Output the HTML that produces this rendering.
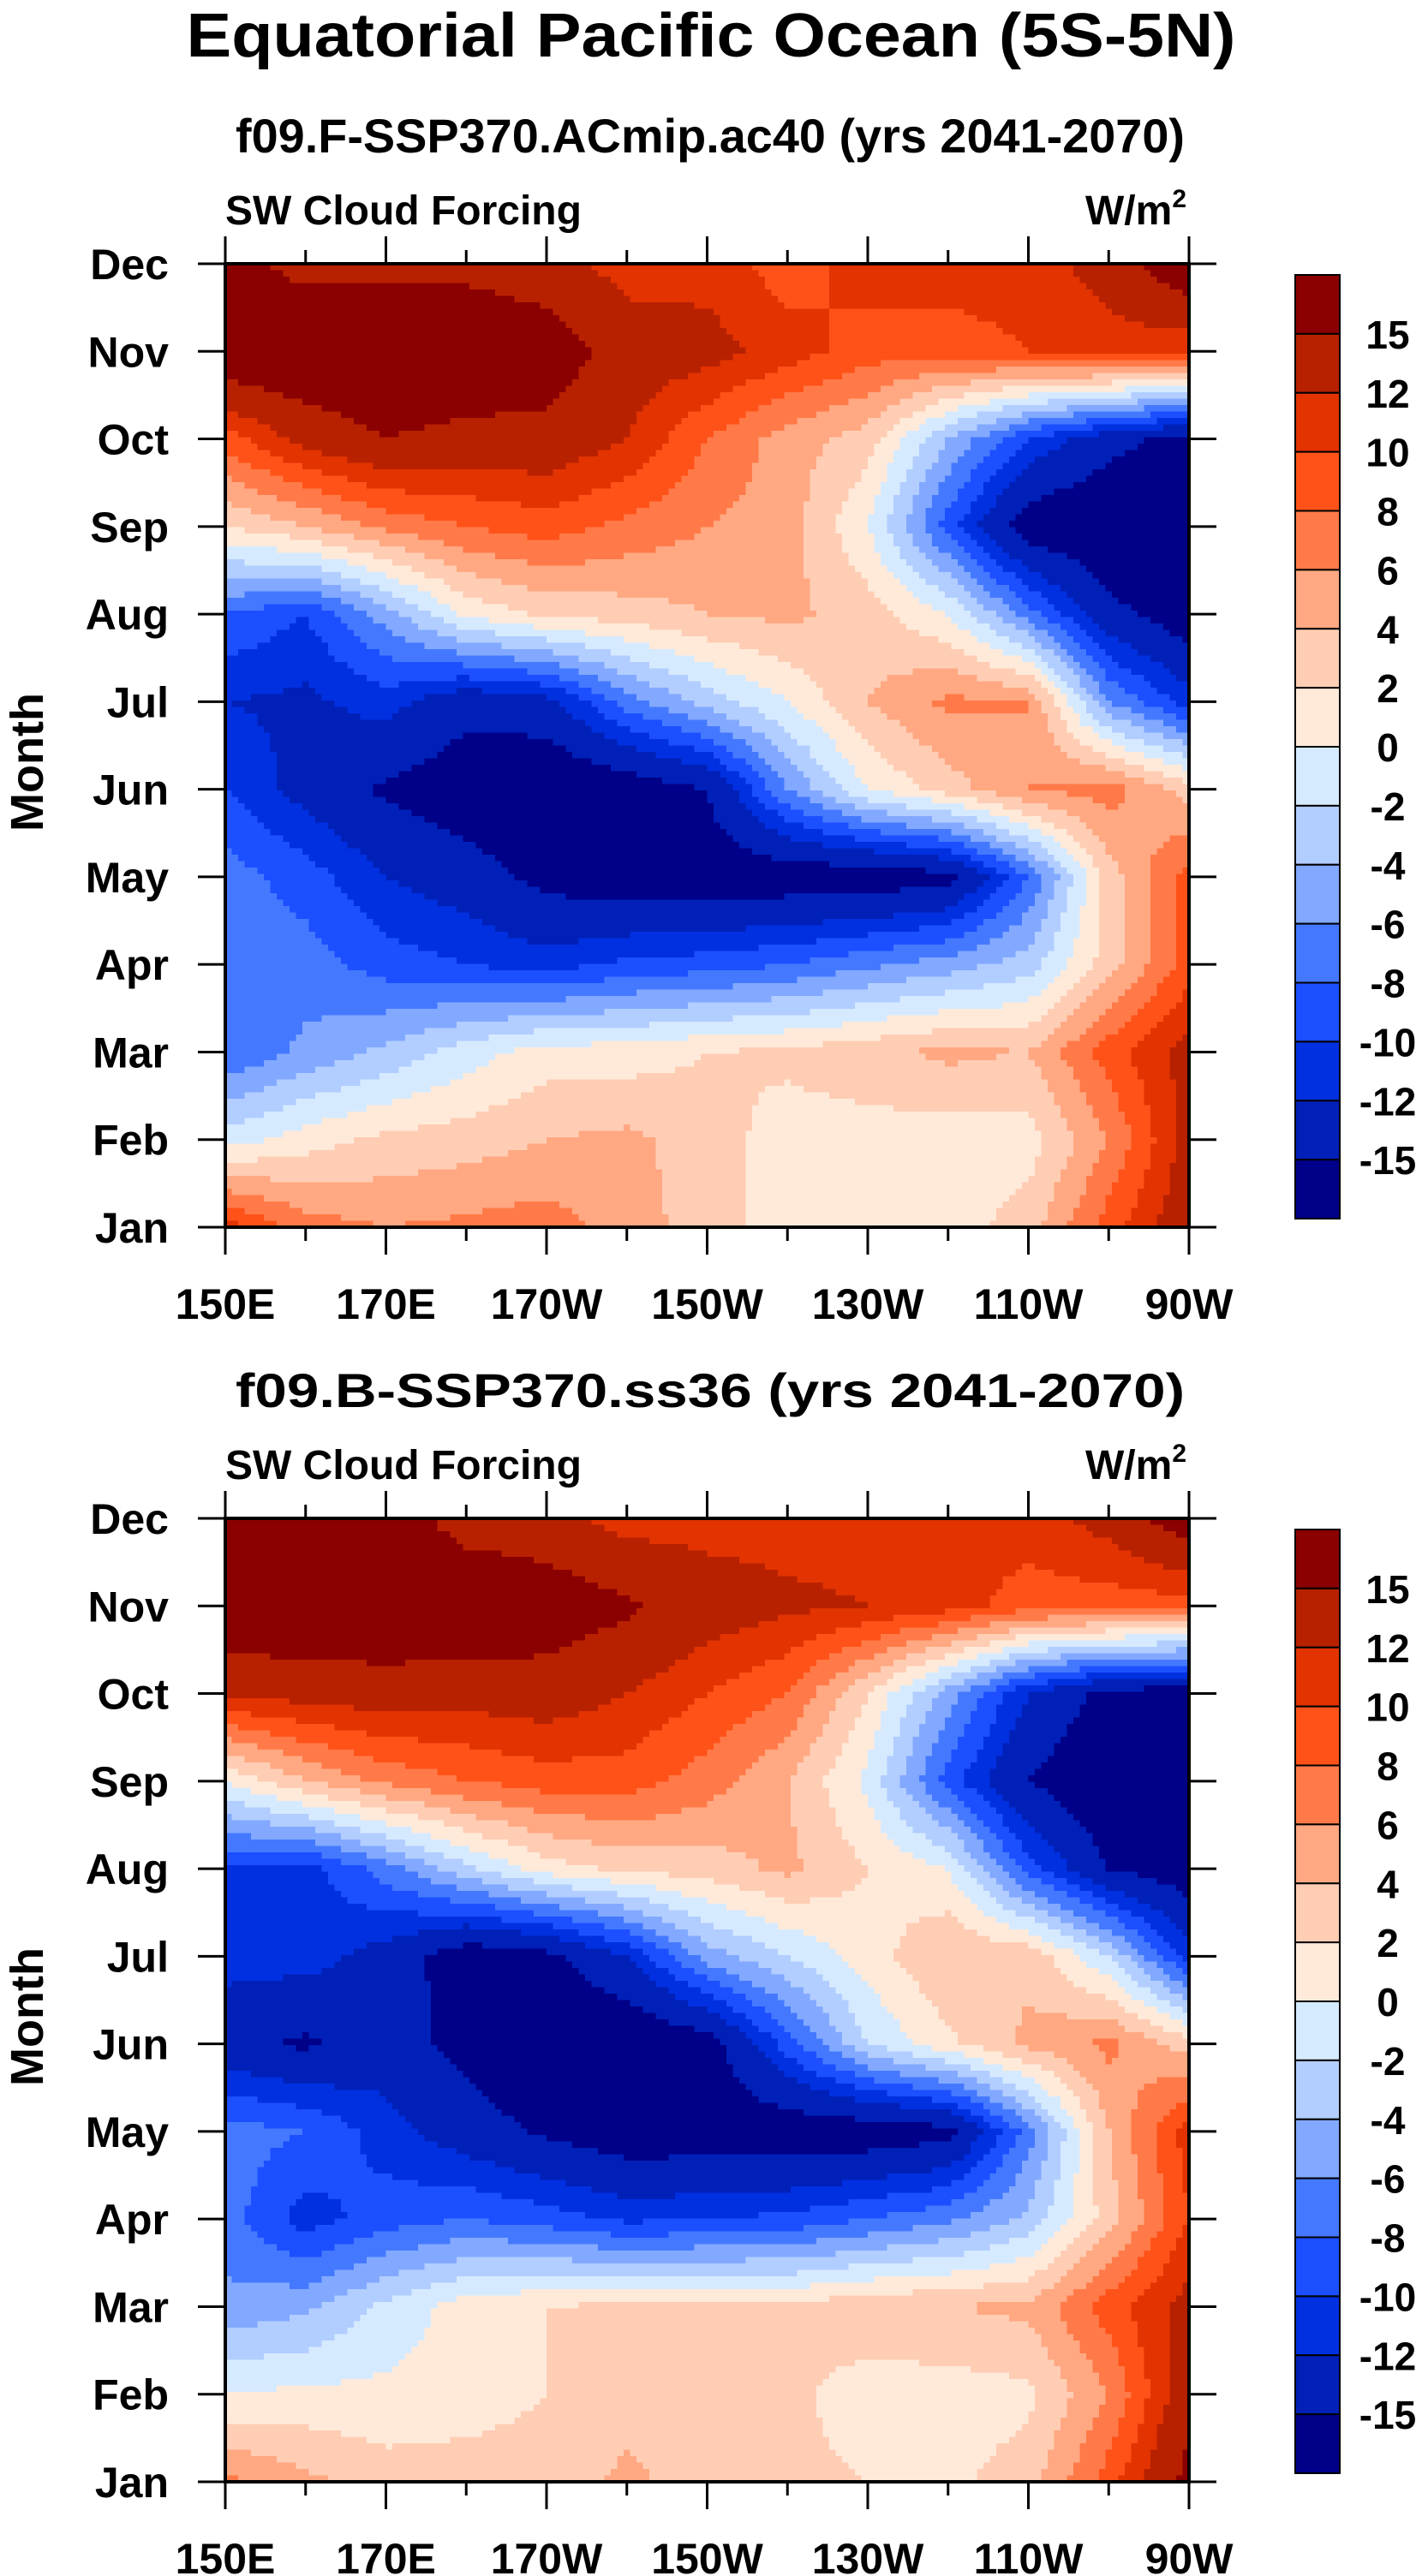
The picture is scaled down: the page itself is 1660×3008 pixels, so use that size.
<!DOCTYPE html>
<html><head><meta charset="utf-8"><style>
html,body{margin:0;padding:0;background:#fff;}
svg{display:block;font-family:"Liberation Sans",Arial,sans-serif;font-weight:bold;}
</style></head><body>
<svg id="fig" width="1660" height="3008" viewBox="0 0 1660 3008" xmlns="http://www.w3.org/2000/svg">
<rect width="1660" height="3008" fill="#fff"/>
<text x="830" y="66" font-size="72" text-anchor="middle" textLength="1225" lengthAdjust="spacingAndGlyphs">Equatorial Pacific Ocean (5S-5N)</text>
</svg>
<script>
// ---- data ----
const months = ["Jan","Feb","Mar","Apr","May","Jun","Jul","Aug","Sep","Oct","Nov","Dec"];
const lonLabels = ["150E","170E","170W","150W","130W","110W","90W"];
const lonTicks = [150,170,190,210,230,250,270];
const lonGrid = [150,160,170,180,190,200,210,220,230,240,250,260,270];
const levels = [-15,-12,-10,-8,-6,-4,-2,0,2,4,6,8,10,12,15];
const levelLabels = ["15","12","10","8","6","4","2","0","-2","-4","-6","-8","-10","-12","-15"];
const colors = ["#000088","#0020B8","#0030E0","#1C4FFF","#4479FF","#82A9FF","#B2CDFF","#D6EAFF","#FFEADA","#FFCDB4","#FFA882","#FF7A48","#FF5218","#E23300","#B82100","#8B0000"];
const fieldTop = [
[11,7,6,6.5,7,5,3,1,1,1,3,9,14],
[-1,1,2.5,3,4,4.5,3,1,1,1,1,6,13],
[-8,-5.5,-3.5,-1,1,1,2,2.5,3.5,4.5,4,9,13],
[-7,-7,-9,-10,-11,-9.5,-9,-8,-6.5,-5,-3,3,9],
[-7,-9,-12,-13.5,-16,-17,-17,-17,-17,-16,-8,3,9],
[-10,-13,-15.5,-17,-18,-17,-15,-6,0,3,6,7,3],
[-12,-12.5,-11,-14,-13,-7,-3,0,4,6.5,6,-6,-11],
[-8,-10,-5,0.5,2.5,3,4,4.5,3,0,-7,-14,-17],
[2,4,6.5,8,9,7.5,6,5,0,-9,-17,-18,-18],
[9,13,15,14,14,12,8,5,3,-4,-10,-14,-16],
[18,18,18,18,17,13.5,13,11,9,9,10,11,10],
[16,14,14,14,13,11,11,9,11,11,11,13,18]];
const fieldBottom = [
[6.5,4.5,3,3,3,4.5,3,2.5,2,1.5,3,9,16],
[0,0.5,0.5,1,2,3,3,2.5,1,1,1.5,6,14],
[-5.5,-4.5,-1.5,1,2,2.5,2.5,2.5,3.5,4,4.5,9,13],
[-7,-11,-9,-8,-9,-10.5,-10,-9.5,-8,-6.5,-3.5,3,10],
[-7,-8,-11,-13.5,-15.5,-17,-17,-17,-17,-16,-7,4,11],
[-14,-15.5,-13.5,-16,-18,-18,-16.5,-9,-2,1.5,4.5,6.5,3],
[-11,-11,-13,-17,-16,-12,-5,-2,1,4,3.5,-2,-11],
[-10,-11,-7,-2.5,1,2.5,3,4.5,2,0,-9,-15,-17],
[0,4,6.5,8,9,9,7,4,-0.5,-9,-15,-18,-18],
[12.5,13,13.5,13,13.5,12,10,8,2,-5,-12,-16,-17],
[18,18,18,18,17,15.5,13.5,12.5,12,11,9,9,9],
[18,18,17,13.5,13,11,11,11,11,11,11,13,17]];
const subtitles = ["f09.F-SSP370.ACmip.ac40 (yrs 2041-2070)","f09.B-SSP370.ss36 (yrs 2041-2070)"];

const NS="http://www.w3.org/2000/svg";
const svg=document.getElementById('fig');
function mk(tag,attrs,parent){const e=document.createElementNS(NS,tag);for(const k in attrs)e.setAttribute(k,attrs[k]);(parent||svg).appendChild(e);return e;}
function levelIndex(v){let i=0;while(i<levels.length&&v>=levels[i])i++;return i;}

function drawPanel(field,off,title,pi){
  const L=263,R=1388,T=308+off,B=1433+off,W=R-L,H=B-T;
  const xS=lon=>L+(lon-150)/120*W;
  const yS=m=>B-m/11*H;
  const g=mk('g',{},svg);
  
  
  function val(lon,m){
    let fi=(lon-150)/10, fj=m;
    fi=Math.max(0,Math.min(12,fi)); fj=Math.max(0,Math.min(11,fj));
    const i0=Math.min(11,Math.floor(fi)), j0=Math.min(10,Math.floor(fj));
    const tx=fi-i0, ty=fj-j0;
    const a=field[j0][i0],b=field[j0][i0+1],c=field[j0+1][i0],d=field[j0+1][i0+1];
    return (a*(1-tx)+b*tx)*(1-ty)+(c*(1-tx)+d*tx)*ty;
  }
  const N=150, cw=W/N, ch=H/N;
  for(let r=0;r<N;r++){
    const m=11-(r+0.5)/N*11;
    let start=0, cur=levelIndex(val(150+0.5/N*120,m));
    for(let c=1;c<=N;c++){
      const li = c<N ? levelIndex(val(150+(c+0.5)/N*120,m)) : -1;
      if(li!==cur){
        const rc=mk('rect',{x:(xS(150+start/N*120)).toFixed(2),y:(T+r*ch).toFixed(2),width:((c-start)*cw+0.6).toFixed(2),height:(ch+0.6).toFixed(2),fill:colors[cur]},g);
        
        
        start=c;cur=li;
      }
    }
  }
  // frame
  const fr=mk('rect',{x:L,y:T,width:W,height:H,fill:'none',stroke:'#000','stroke-width':4});
  
  
  // lon ticks
  for(let lon=150;lon<=270;lon+=10){
    const major=lonTicks.includes(lon), len=major?32:16, x=xS(lon);
    const t1=mk('line',{x1:x,y1:B,x2:x,y2:B+len,stroke:'#000','stroke-width':3});
    
    
    const t2=mk('line',{x1:x,y1:T,x2:x,y2:T-len,stroke:'#000','stroke-width':3});
    
    
  }
  lonTicks.forEach((lon,i)=>{
    const t=mk('text',{x:xS(lon),y:B+107,'font-size':50,'text-anchor':'middle'});
    t.textContent=lonLabels[i];
    
    
  });
  months.forEach((mn,i)=>{
    const y=yS(i);
    const a=mk('line',{x1:L-32,y1:y,x2:L,y2:y,stroke:'#000','stroke-width':3});
    
    
    const b=mk('line',{x1:R,y1:y,x2:R+32,y2:y,stroke:'#000','stroke-width':3});
    
    
    const t=mk('text',{x:197,y:y+18,'font-size':50,'text-anchor':'end'});
    t.textContent=mn;
    
    
  });
  const yl=mk('text',{x:0,y:0,'font-size':54,'text-anchor':'middle',transform:'translate(50,'+(890+off)+') rotate(-90)'});
  yl.textContent='Month';
  
  
  const st=mk('text',{x:829,y:178+off,'font-size':56,'text-anchor':'middle',textLength:1108,lengthAdjust:'spacingAndGlyphs'});
  st.textContent=title;
  
  
  const ls=mk('text',{x:263,y:262+off,'font-size':48});
  ls.textContent='SW Cloud Forcing';
  
  
  const un=mk('text',{x:1385,y:262+off,'font-size':48,'text-anchor':'end'});
  un.innerHTML='W/m<tspan font-size="30" dy="-20">2</tspan>';
  
  
  // colorbar
  const cbT=321+off, cbB=1423+off, cbL=1512, cbR=1564, bh=(cbB-cbT)/colors.length;
  const cb=mk('g',{},svg);
  
  
  for(let k=0;k<colors.length;k++){
    const ci=colors.length-1-k;
    const r=mk('rect',{x:cbL,y:cbT+k*bh,width:cbR-cbL,height:bh,fill:colors[ci],stroke:'#000','stroke-width':2},cb);
    
    
  }
  levelLabels.forEach((lb,k)=>{
    const t=mk('text',{x:1620,y:cbT+(k+1)*bh+17,'font-size':46,'text-anchor':'middle'},cb);
    t.textContent=lb;
    
    
  });
}
drawPanel(fieldTop,0,subtitles[0],0);
drawPanel(fieldBottom,1465,subtitles[1],1);
</script>
</body></html>
